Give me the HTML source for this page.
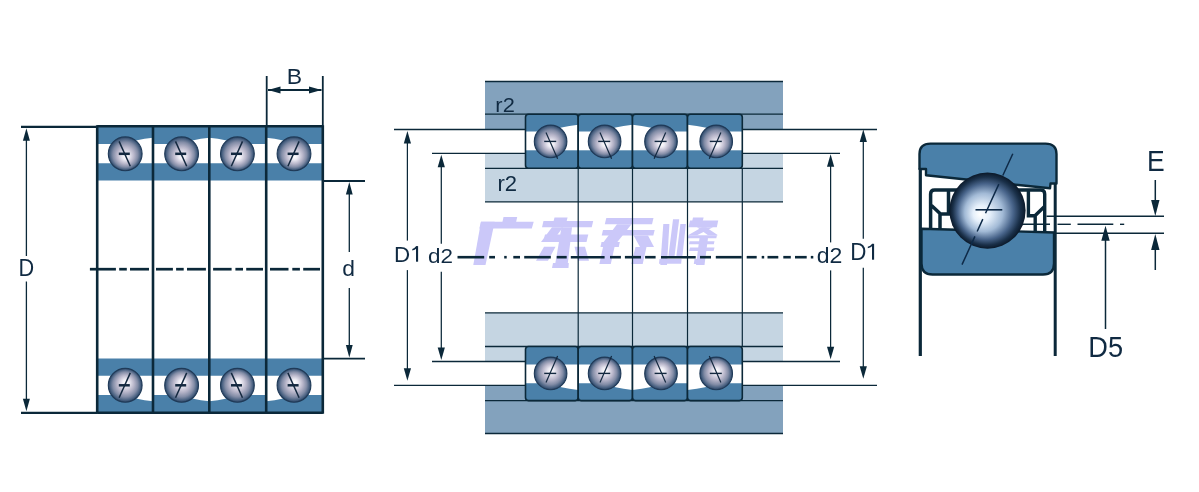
<!DOCTYPE html>
<html><head><meta charset="utf-8"><style>
html,body{margin:0;padding:0;background:#fff;}
body{width:1199px;height:492px;overflow:hidden;}
svg{display:block;will-change:transform;}
</style></head><body>
<svg width="1199" height="492" viewBox="0 0 1199 492" font-family="Liberation Sans, sans-serif">
<defs>
<radialGradient id="bg" cx="0.5" cy="0.5" r="0.5" fx="0.52" fy="0.6">
 <stop offset="0" stop-color="#ffffff"/>
 <stop offset="0.2" stop-color="#eceaf3"/>
 <stop offset="0.5" stop-color="#b8b6ca"/>
 <stop offset="0.74" stop-color="#828ca6"/>
 <stop offset="0.9" stop-color="#4a6282"/>
 <stop offset="1" stop-color="#2a4262"/>
</radialGradient>
<radialGradient id="bg2" cx="0.5" cy="0.5" r="0.5" fx="0.4" fy="0.55">
 <stop offset="0" stop-color="#ffffff"/>
 <stop offset="0.22" stop-color="#e6f0fb"/>
 <stop offset="0.5" stop-color="#a2bad6"/>
 <stop offset="0.73" stop-color="#48648a"/>
 <stop offset="0.89" stop-color="#1a3049"/>
 <stop offset="1" stop-color="#0a1828"/>
</radialGradient>
</defs>
<rect width="1199" height="492" fill="#ffffff"/>
<g fill="#cbc8f9"><path d="M503.5,217.1 L517.2,217.1 L516,222.4 L502.3,222.4 Z"/><path d="M481,221.8 L533.7,221.8 L531.8,228.5 L479.3,228.5 Z"/><path d="M481,221.8 L494.7,221.8 L485.5,265 L473.3,265 Z"/><path d="M554.5,217.5 L567.6,217.5 L566.7,221.1 L553.6,221.1 Z"/><path d="M543.5,221.1 L593.2,221.1 L591.7,227.2 L542,227.2 Z"/><path d="M552,227.2 L563,227.2 L552,241.9 L541,241.9 Z"/><path d="M545,234.6 L588.3,234.6 L586.5,241.9 L543.2,241.9 Z"/><path d="M561.5,227.2 L572,227.2 L567.6,265 L555,265 Z"/><path d="M553,263 L568.8,263 L568.5,268 L552,268 Z"/><path d="M544,246.8 L555.5,246.8 L548,260.8 L536,260.8 Z"/><path d="M574.5,246.8 L585,246.8 L589,260.8 L578,260.8 Z"/><path d="M606.3,218 L653.5,218 L652,224.3 L604.8,224.3 Z"/><path d="M617,224.3 L631.5,224.3 L614.2,246 L600.6,246 Z"/><path d="M603,230 L654.7,230 L653.3,235.6 L601.7,235.6 Z"/><path d="M633.6,235.6 L648,235.6 L654,247 L640,247 Z"/><path d="M601.5,242 L619.8,242 L618.8,247 L600.5,247 Z"/><path d="M603,247 L614.5,247 L610.8,264 L599.4,264 Z"/><path d="M635.5,247 L646.5,247 L642.7,264 L631.3,264 Z"/><path d="M663.3,224 L669.4,224 L667,265 L660.3,265 Z"/><path d="M673,219.3 L679.2,219.3 L674.3,258 L668.2,258 Z"/><path d="M680.4,224 L685.9,224 L682.2,258 L676.1,258 Z"/><path d="M659.5,259 L681.6,259 L681.2,263.8 L659,263.8 Z"/><path d="M693,217.5 L703.6,217.5 L702.5,222 L692,222 Z"/><path d="M690,220.5 L718.2,220.5 L716.8,227.2 L688.5,227.2 Z"/><path d="M702,227.2 L713,227.2 L697,235.2 L688,235.2 Z"/><path d="M697,227.2 L706,227.2 L718,235.2 L708,235.2 Z"/><path d="M688.5,235.2 L717,235.2 L716.3,238.2 L687.7,238.2 Z"/><path d="M689.7,241.3 L714.5,241.3 L713.8,244.3 L689,244.3 Z"/><path d="M690,247.4 L714.5,247.4 L713.6,251 L689,251 Z"/><path d="M699.5,238 L708,238 L704.5,265 L696,265 Z"/><path d="M694.5,259 L703.6,259 L703.3,264 L693.8,264 Z"/></g>
<g id="lefttop">
<path d="M97.2,126.3 L153.0,126.3 L153.0,137.8 Q135.2,139.5 125.2,144 L97.2,144 Z" fill="#4a80a9"/>
<path d="M97.2,163.3 L153.0,163.3 L153.0,180.5 L97.2,180.5 Z" fill="#4a80a9"/>
<path d="M153.0,126.3 L209.3,126.3 L209.3,137.8 Q191.6,139.5 181.6,144 L153.0,144 Z" fill="#4a80a9"/>
<path d="M153.0,163.3 L209.3,163.3 L209.3,180.5 L153.0,180.5 Z" fill="#4a80a9"/>
<path d="M209.3,126.3 L266.2,126.3 L266.2,144 L237.4,144 Q227.4,139.5 209.3,137.8 Z" fill="#4a80a9"/>
<path d="M209.3,163.3 L266.2,163.3 L266.2,180.5 L209.3,180.5 Z" fill="#4a80a9"/>
<path d="M266.2,126.3 L322.8,126.3 L322.8,144 L294.0,144 Q284.0,139.5 266.2,137.8 Z" fill="#4a80a9"/>
<path d="M266.2,163.3 L322.8,163.3 L322.8,180.5 L266.2,180.5 Z" fill="#4a80a9"/>
<circle cx="125.2" cy="153.8" r="16.9" fill="url(#bg)" stroke="#1f3a58" stroke-width="1.1"/>
<line x1="119.1" y1="141.4" x2="130.3" y2="166.2" stroke="#13283f" stroke-width="1.5" />
<line x1="118.8" y1="153.8" x2="129.8" y2="153.8" stroke="#13283f" stroke-width="2.5" />
<circle cx="181.6" cy="153.8" r="16.9" fill="url(#bg)" stroke="#1f3a58" stroke-width="1.1"/>
<line x1="175.5" y1="141.4" x2="186.7" y2="166.2" stroke="#13283f" stroke-width="1.5" />
<line x1="175.2" y1="153.8" x2="186.2" y2="153.8" stroke="#13283f" stroke-width="2.5" />
<circle cx="237.4" cy="153.8" r="16.9" fill="url(#bg)" stroke="#1f3a58" stroke-width="1.1"/>
<line x1="231.3" y1="166.2" x2="242.5" y2="141.4" stroke="#13283f" stroke-width="1.5" />
<line x1="231.0" y1="153.8" x2="242.0" y2="153.8" stroke="#13283f" stroke-width="2.5" />
<circle cx="294.0" cy="153.8" r="16.9" fill="url(#bg)" stroke="#1f3a58" stroke-width="1.1"/>
<line x1="287.9" y1="166.2" x2="299.1" y2="141.4" stroke="#13283f" stroke-width="1.5" />
<line x1="287.6" y1="153.8" x2="298.6" y2="153.8" stroke="#13283f" stroke-width="2.5" />
</g>
<use href="#lefttop" transform="translate(0,539.1) scale(1,-1)"/>
<line x1="97.2" y1="125.3" x2="97.2" y2="413.8" stroke="#0b2839" stroke-width="2.6" />
<line x1="153.0" y1="125.3" x2="153.0" y2="413.8" stroke="#0b2839" stroke-width="2.6" />
<line x1="209.3" y1="125.3" x2="209.3" y2="413.8" stroke="#0b2839" stroke-width="2.6" />
<line x1="266.2" y1="125.3" x2="266.2" y2="413.8" stroke="#0b2839" stroke-width="2.6" />
<line x1="322.8" y1="125.3" x2="322.8" y2="413.8" stroke="#0b2839" stroke-width="2.6" />
<line x1="97.2" y1="126.3" x2="322.8" y2="126.3" stroke="#0b2839" stroke-width="2.6" />
<line x1="97.2" y1="412.8" x2="322.8" y2="412.8" stroke="#0b2839" stroke-width="2.6" />
<line x1="89.9" y1="269.2" x2="115.9" y2="269.2" stroke="#0b2839" stroke-width="2.7" />
<line x1="119.2" y1="269.2" x2="126.8" y2="269.2" stroke="#0b2839" stroke-width="2.7" />
<line x1="130" y1="269.2" x2="149" y2="269.2" stroke="#0b2839" stroke-width="2.7" />
<line x1="156" y1="269.2" x2="172.9" y2="269.2" stroke="#0b2839" stroke-width="2.7" />
<line x1="176.1" y1="269.2" x2="183.7" y2="269.2" stroke="#0b2839" stroke-width="2.7" />
<line x1="187" y1="269.2" x2="205.9" y2="269.2" stroke="#0b2839" stroke-width="2.7" />
<line x1="213.1" y1="269.2" x2="231.6" y2="269.2" stroke="#0b2839" stroke-width="2.7" />
<line x1="235.4" y1="269.2" x2="243" y2="269.2" stroke="#0b2839" stroke-width="2.7" />
<line x1="246.2" y1="269.2" x2="263" y2="269.2" stroke="#0b2839" stroke-width="2.7" />
<line x1="270" y1="269.2" x2="288.5" y2="269.2" stroke="#0b2839" stroke-width="2.7" />
<line x1="292.3" y1="269.2" x2="299.9" y2="269.2" stroke="#0b2839" stroke-width="2.7" />
<line x1="303.2" y1="269.2" x2="320" y2="269.2" stroke="#0b2839" stroke-width="2.7" />
<line x1="21" y1="126.9" x2="97.2" y2="126.9" stroke="#0b2839" stroke-width="2.2" />
<line x1="21" y1="412.8" x2="97.2" y2="412.8" stroke="#0b2839" stroke-width="2.2" />
<line x1="26.4" y1="134" x2="26.4" y2="256" stroke="#0b2839" stroke-width="1.3" />
<line x1="26.4" y1="281.5" x2="26.4" y2="406.8" stroke="#0b2839" stroke-width="1.3" />
<path d="M26.4,128.2 L22.9,140.7 L29.9,140.7 Z" fill="#0b2839"/>
<path d="M26.4,411.3 L22.9,398.8 L29.9,398.8 Z" fill="#0b2839"/>
<text x="0" y="0" transform="translate(18.46,276.0) scale(0.941,1)" font-size="23.04" text-anchor="start" fill="#102a42">D</text>
<line x1="266.7" y1="76" x2="266.7" y2="126.3" stroke="#0b2839" stroke-width="1.8" />
<line x1="322.8" y1="76" x2="322.8" y2="126.3" stroke="#0b2839" stroke-width="1.8" />
<line x1="268" y1="90" x2="321.5" y2="90" stroke="#0b2839" stroke-width="1.8" />
<path d="M268,90 L280.5,86.6 L280.5,93.4 Z" fill="#0b2839"/>
<path d="M321.5,90 L309.0,86.6 L309.0,93.4 Z" fill="#0b2839"/>
<text x="0" y="0" transform="translate(286.66,83.6) scale(1.005,1)" font-size="22.9" text-anchor="start" fill="#102a42">B</text>
<line x1="322.8" y1="181" x2="365" y2="181" stroke="#0b2839" stroke-width="1.8" />
<line x1="322.8" y1="358.6" x2="365" y2="358.6" stroke="#0b2839" stroke-width="1.8" />
<line x1="349.3" y1="186" x2="349.3" y2="252" stroke="#0b2839" stroke-width="1.3" />
<line x1="349.3" y1="288" x2="349.3" y2="353" stroke="#0b2839" stroke-width="1.3" />
<path d="M349.3,182 L345.90000000000003,194.5 L352.7,194.5 Z" fill="#0b2839"/>
<path d="M349.3,357.6 L345.90000000000003,345.1 L352.7,345.1 Z" fill="#0b2839"/>
<text x="0" y="0" transform="translate(342.28,275.78) scale(1.059,1)" font-size="21.62" text-anchor="start" fill="#102a42">d</text>
<g id="midtop">
<rect x="485" y="81.4" width="298" height="48.1" fill="#83a2bd"/>
<line x1="485" y1="81.4" x2="783" y2="81.4" stroke="#0b2839" stroke-width="1.5" />
<line x1="485" y1="114.2" x2="783" y2="114.2" stroke="#0b2839" stroke-width="1.3" />
<rect x="485" y="153.3" width="298" height="48.6" fill="#c5d5e2"/>
<line x1="485" y1="168.3" x2="783" y2="168.3" stroke="#0b2839" stroke-width="1.3" />
<line x1="485" y1="201.9" x2="783" y2="201.9" stroke="#0b2839" stroke-width="1.4" />
<line x1="394" y1="129.5" x2="877" y2="129.5" stroke="#0b2839" stroke-width="1.3" />
<line x1="432" y1="153.3" x2="840" y2="153.3" stroke="#0b2839" stroke-width="1.3" />
<rect x="525.5" y="114.2" width="52.700000000000045" height="54.1" rx="3" fill="#ffffff"/>
<clipPath id="mc0"><rect x="525.5" y="114.2" width="52.700000000000045" height="54.1" rx="3"/></clipPath>
<g clip-path="url(#mc0)">
<path d="M525.5,114.2 L578.2,114.2 L578.2,124.8 Q559.6,127 548.6,131.5 L525.5,131.5 Z" fill="#4a80a9"/>
<rect x="525.5" y="150.3" width="52.700000000000045" height="18" fill="#4a80a9"/>
</g>
<rect x="525.5" y="114.2" width="52.700000000000045" height="54.1" rx="3" fill="none" stroke="#0b2839" stroke-width="1.6"/>
<circle cx="550.6" cy="141.4" r="16.3" fill="url(#bg)" stroke="#1f3a58" stroke-width="1.1"/>
<line x1="546.0" y1="132.4" x2="557.6" y2="158.8" stroke="#13283f" stroke-width="1.2" />
<line x1="544.2" y1="141.4" x2="556.2" y2="141.4" stroke="#13283f" stroke-width="1.4" />
<rect x="578.2" y="114.2" width="54.299999999999955" height="54.1" rx="3" fill="#ffffff"/>
<clipPath id="mc1"><rect x="578.2" y="114.2" width="54.299999999999955" height="54.1" rx="3"/></clipPath>
<g clip-path="url(#mc1)">
<path d="M578.2,114.2 L632.5,114.2 L632.5,124.8 Q613.6,127 602.6,131.5 L578.2,131.5 Z" fill="#4a80a9"/>
<rect x="578.2" y="150.3" width="54.299999999999955" height="18" fill="#4a80a9"/>
</g>
<rect x="578.2" y="114.2" width="54.299999999999955" height="54.1" rx="3" fill="none" stroke="#0b2839" stroke-width="1.6"/>
<circle cx="604.6" cy="141.4" r="16.3" fill="url(#bg)" stroke="#1f3a58" stroke-width="1.1"/>
<line x1="600.0" y1="132.4" x2="611.6" y2="158.8" stroke="#13283f" stroke-width="1.2" />
<line x1="598.2" y1="141.4" x2="610.2" y2="141.4" stroke="#13283f" stroke-width="1.4" />
<rect x="632.5" y="114.2" width="55.0" height="54.1" rx="3" fill="#ffffff"/>
<clipPath id="mc2"><rect x="632.5" y="114.2" width="55.0" height="54.1" rx="3"/></clipPath>
<g clip-path="url(#mc2)">
<path d="M632.5,114.2 L687.5,114.2 L687.5,131.5 L663.0,131.5 Q652.0,127 632.5,124.8 Z" fill="#4a80a9"/>
<rect x="632.5" y="150.3" width="55.0" height="18" fill="#4a80a9"/>
</g>
<rect x="632.5" y="114.2" width="55.0" height="54.1" rx="3" fill="none" stroke="#0b2839" stroke-width="1.6"/>
<circle cx="661.0" cy="141.4" r="16.3" fill="url(#bg)" stroke="#1f3a58" stroke-width="1.1"/>
<line x1="654.1" y1="158.8" x2="665.7" y2="132.4" stroke="#13283f" stroke-width="1.2" />
<line x1="654.6" y1="141.4" x2="666.6" y2="141.4" stroke="#13283f" stroke-width="1.4" />
<rect x="687.5" y="114.2" width="54.799999999999955" height="54.1" rx="3" fill="#ffffff"/>
<clipPath id="mc3"><rect x="687.5" y="114.2" width="54.799999999999955" height="54.1" rx="3"/></clipPath>
<g clip-path="url(#mc3)">
<path d="M687.5,114.2 L742.3,114.2 L742.3,131.5 L718.2,131.5 Q707.2,127 687.5,124.8 Z" fill="#4a80a9"/>
<rect x="687.5" y="150.3" width="54.799999999999955" height="18" fill="#4a80a9"/>
</g>
<rect x="687.5" y="114.2" width="54.799999999999955" height="54.1" rx="3" fill="none" stroke="#0b2839" stroke-width="1.6"/>
<circle cx="716.2" cy="141.4" r="16.3" fill="url(#bg)" stroke="#1f3a58" stroke-width="1.1"/>
<line x1="709.3" y1="158.8" x2="720.9" y2="132.4" stroke="#13283f" stroke-width="1.2" />
<line x1="709.8" y1="141.4" x2="721.8" y2="141.4" stroke="#13283f" stroke-width="1.4" />
</g>
<use href="#midtop" transform="translate(0,514.8) scale(1,-1)"/>
<line x1="578.2" y1="168.3" x2="578.2" y2="346.49999999999994" stroke="#0b2839" stroke-width="1.2" />
<line x1="632.5" y1="168.3" x2="632.5" y2="346.49999999999994" stroke="#0b2839" stroke-width="1.2" />
<line x1="687.5" y1="168.3" x2="687.5" y2="346.49999999999994" stroke="#0b2839" stroke-width="1.2" />
<line x1="742.3" y1="168.3" x2="742.3" y2="346.49999999999994" stroke="#0b2839" stroke-width="1.2" />
<line x1="407.4" y1="139.1" x2="407.4" y2="240.6" stroke="#0b2839" stroke-width="1.25" />
<line x1="407.4" y1="270.1" x2="407.4" y2="372.7" stroke="#0b2839" stroke-width="1.25" />
<path d="M407.4,131.1 L403.79999999999995,143.6 L411.0,143.6 Z" fill="#0b2839"/>
<path d="M407.4,380.7 L403.79999999999995,368.2 L411.0,368.2 Z" fill="#0b2839"/>
<line x1="863.3" y1="137.4" x2="863.3" y2="238.7" stroke="#0b2839" stroke-width="1.25" />
<line x1="863.3" y1="267.8" x2="863.3" y2="370.7" stroke="#0b2839" stroke-width="1.25" />
<path d="M863.3,129.4 L859.6999999999999,141.9 L866.9,141.9 Z" fill="#0b2839"/>
<path d="M863.3,378.7 L859.6999999999999,366.2 L866.9,366.2 Z" fill="#0b2839"/>
<line x1="441.3" y1="162.7" x2="441.3" y2="243.7" stroke="#0b2839" stroke-width="1.25" />
<line x1="441.3" y1="271.7" x2="441.3" y2="352.0" stroke="#0b2839" stroke-width="1.25" />
<path d="M441.3,154.7 L437.7,167.2 L444.90000000000003,167.2 Z" fill="#0b2839"/>
<path d="M441.3,360.0 L437.7,347.5 L444.90000000000003,347.5 Z" fill="#0b2839"/>
<line x1="830.6" y1="162.3" x2="830.6" y2="242.4" stroke="#0b2839" stroke-width="1.25" />
<line x1="830.6" y1="270.4" x2="830.6" y2="351.3" stroke="#0b2839" stroke-width="1.25" />
<path d="M830.6,154.3 L827.0,166.8 L834.2,166.8 Z" fill="#0b2839"/>
<path d="M830.6,359.3 L827.0,346.8 L834.2,346.8 Z" fill="#0b2839"/>
<line x1="457.5" y1="257.2" x2="484.2" y2="257.2" stroke="#0b2839" stroke-width="2.6" />
<line x1="489.2" y1="257.2" x2="495" y2="257.2" stroke="#0b2839" stroke-width="2.6" />
<line x1="504.2" y1="257.2" x2="506.7" y2="257.2" stroke="#0b2839" stroke-width="2.6" />
<line x1="513.3" y1="257.2" x2="520" y2="257.2" stroke="#0b2839" stroke-width="2.6" />
<line x1="524.2" y1="257.2" x2="550.8" y2="257.2" stroke="#0b2839" stroke-width="2.6" />
<line x1="556.7" y1="257.2" x2="566.7" y2="257.2" stroke="#0b2839" stroke-width="2.6" />
<line x1="570.8" y1="257.2" x2="604.6" y2="257.2" stroke="#0b2839" stroke-width="2.6" />
<line x1="610" y1="257.2" x2="620.9" y2="257.2" stroke="#0b2839" stroke-width="2.6" />
<line x1="624.9" y1="257.2" x2="641" y2="257.2" stroke="#0b2839" stroke-width="2.6" />
<line x1="645.1" y1="257.2" x2="655.6" y2="257.2" stroke="#0b2839" stroke-width="2.6" />
<line x1="661" y1="257.2" x2="695.7" y2="257.2" stroke="#0b2839" stroke-width="2.6" />
<line x1="700" y1="257.2" x2="711" y2="257.2" stroke="#0b2839" stroke-width="2.6" />
<line x1="715.8" y1="257.2" x2="741.7" y2="257.2" stroke="#0b2839" stroke-width="2.6" />
<line x1="746.7" y1="257.2" x2="756.7" y2="257.2" stroke="#0b2839" stroke-width="2.6" />
<line x1="761.7" y1="257.2" x2="764.2" y2="257.2" stroke="#0b2839" stroke-width="2.6" />
<line x1="767.5" y1="257.2" x2="778.3" y2="257.2" stroke="#0b2839" stroke-width="2.6" />
<line x1="783.3" y1="257.2" x2="790.8" y2="257.2" stroke="#0b2839" stroke-width="2.6" />
<line x1="795" y1="257.2" x2="806.7" y2="257.2" stroke="#0b2839" stroke-width="2.6" />
<line x1="810.8" y1="257.2" x2="813.3" y2="257.2" stroke="#0b2839" stroke-width="2.6" />
<text x="0" y="0" transform="translate(393.91,261.7) scale(0.99,1)" font-size="22.61" text-anchor="start" fill="#102a42">D</text>
<rect x="416.0" y="246.1" width="2.1" height="15.599999999999994" fill="#102a42"/>
<path d="M416.2,246.1 L417.0,247.9 Q414.8,250.0 412.3,250.5 L412.3,249.0 Q414.4,248.4 416.2,246.1 Z" fill="#102a42"/>
<text x="0" y="0" transform="translate(428.1,263.39) scale(1.072,1)" font-size="20.95" text-anchor="start" fill="#102a42">d2</text>
<text x="0" y="0" transform="translate(816.78,263.39) scale(1.072,1)" font-size="21.49" text-anchor="start" fill="#102a42">d2</text>
<text x="0" y="0" transform="translate(850.21,259.7) scale(0.971,1)" font-size="23.04" text-anchor="start" fill="#102a42">D</text>
<rect x="872.0" y="243.8" width="2.1" height="15.899999999999977" fill="#102a42"/>
<path d="M872.2,243.8 L873.0,245.60000000000002 Q870.8,247.70000000000002 867.8,248.20000000000002 L867.8,246.70000000000002 Q870.4,246.10000000000002 872.2,243.8 Z" fill="#102a42"/>
<text x="0" y="0" transform="translate(495.37,111.8) scale(1.039,1)" font-size="21.0" text-anchor="start" fill="#102a42">r2</text>
<text x="0" y="0" transform="translate(497.45,190.8) scale(1.03,1)" font-size="21.43" text-anchor="start" fill="#102a42">r2</text>
<path d="M919.5,169 L919.5,154 Q919.5,143.6 930.5,143.6 L1045.5,143.6 Q1056.5,143.6 1056.5,154 L1056.5,183.5 L1050.5,183.5 L1050,188.3 L926,175.3 L926,169 Z" fill="#4a80a9" stroke="#0b2839" stroke-width="2.4" stroke-linejoin="round"/>
<path d="M921.5,228.7 L1054,232.5 L1054,263.5 Q1054,274.5 1043,274.5 L932.5,274.5 Q921.5,274.5 921.5,263.5 Z" fill="#4a80a9" stroke="#0b2839" stroke-width="2.4"/>
<line x1="920.3" y1="168" x2="920.3" y2="356" stroke="#0b2839" stroke-width="3.2" />
<line x1="1055.2" y1="183" x2="1055.2" y2="356" stroke="#0b2839" stroke-width="3" />
<path d="M930.6,229 L930.6,194 Q930.6,190 934.6,190 L962,190 M948.5,191 L948.5,214 L940,214 M931.5,205.5 L940,213.5 L940,229" fill="none" stroke="#0b2839" stroke-width="3.5"/>
<path d="M1044.7,232 L1044.7,194 Q1044.7,190 1040.7,190 L1014,190 M1028.4,191 L1028.4,215.8 L1035.2,215.8 M1044.5,206.5 L1035.2,215.5 L1035.2,232" fill="none" stroke="#0b2839" stroke-width="3.4"/>
<line x1="1046.5" y1="216.3" x2="1164" y2="216.3" stroke="#0b2839" stroke-width="1.5" />
<line x1="1055" y1="233.3" x2="1164" y2="233.3" stroke="#0b2839" stroke-width="1.5" />
<line x1="1013.5" y1="224.3" x2="1050" y2="224.3" stroke="#0b2839" stroke-width="1.4" />
<line x1="1057.5" y1="224.3" x2="1070.8" y2="224.3" stroke="#0b2839" stroke-width="1.4" />
<line x1="1077.5" y1="224.3" x2="1113.3" y2="224.3" stroke="#0b2839" stroke-width="1.4" />
<line x1="1120" y1="224.3" x2="1124.2" y2="224.3" stroke="#0b2839" stroke-width="1.4" />
<circle cx="987.5" cy="210.6" r="38.1" fill="url(#bg2)"/>
<line x1="1012.8" y1="153.7" x2="962" y2="264.6" stroke="#0e2a48" stroke-width="1.5" stroke-dasharray="24,9.5,32,6.5,13.6,5.4,31,10"/>
<line x1="975.5" y1="209.8" x2="1002.3" y2="209.8" stroke="#0e2a48" stroke-width="1.6" />
<line x1="1155.3" y1="180" x2="1155.3" y2="204" stroke="#0b2839" stroke-width="1.5" />
<path d="M1155.3,216 L1151.1,200 L1159.5,200 Z" fill="#0b2839"/>
<line x1="1155.3" y1="246" x2="1155.3" y2="270" stroke="#0b2839" stroke-width="1.5" />
<path d="M1155.3,234 L1151.1,250 L1159.5,250 Z" fill="#0b2839"/>
<text x="0" y="0" transform="translate(1147.08,171.0) scale(0.905,1)" font-size="29.28" text-anchor="start" fill="#102a42">E</text>
<line x1="1105.5" y1="238" x2="1105.5" y2="329" stroke="#0b2839" stroke-width="1.5" />
<path d="M1105.5,225.8 L1101.3,240.8 L1109.7,240.8 Z" fill="#0b2839"/>
<text x="0" y="0" transform="translate(1088.33,356.71) scale(0.927,1)" font-size="29.29" text-anchor="start" fill="#102a42">D5</text>
</svg>
</body></html>
